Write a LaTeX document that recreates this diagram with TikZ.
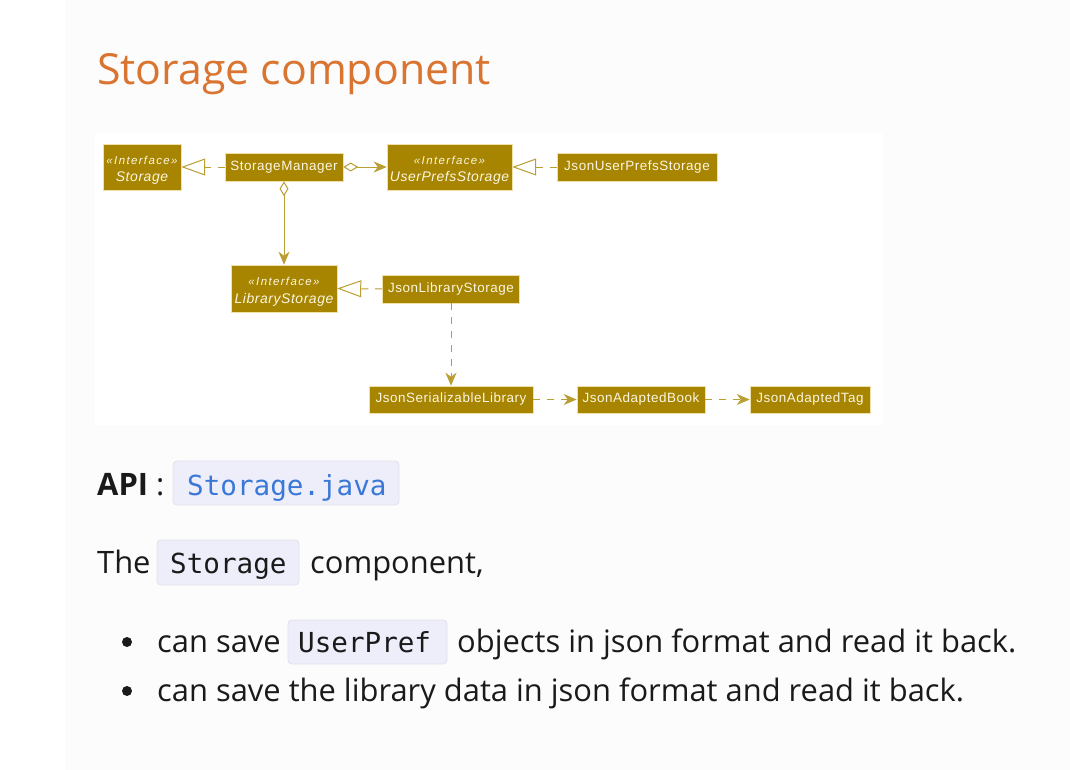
\documentclass[tikz,border=0pt]{standalone}
\usepackage{fontspec}
\setmainfont{Open Sans}
\newfontfamily\diag{Liberation Sans}[LetterSpace=4]
\newfontfamily\diagst{Liberation Sans}[LetterSpace=12]
\newfontfamily\mono{DejaVu Sans Mono}
\usetikzlibrary{arrows.meta}
\definecolor{pagebg}{RGB}{252,252,252}
\definecolor{gold}{RGB}{167,133,0}
\definecolor{goldedge}{RGB}{240,225,170}
\definecolor{goldtext}{RGB}{252,246,226}
\definecolor{goldline}{RGB}{185,158,50}
\definecolor{titleorange}{RGB}{217,117,48}
\definecolor{codebg}{RGB}{238,238,251}
\definecolor{codeedge}{RGB}{224,224,238}
\definecolor{linkblue}{RGB}{58,120,216}
\definecolor{bodytext}{RGB}{26,26,26}
\tikzset{
  cls/.style={rectangle, fill=gold, draw=goldedge, line width=0.6pt, text=goldtext,
    font=\diag\fontsize{13.5}{15}\selectfont, inner sep=0pt, align=center},
  stxt/.style={anchor=base, inner sep=0pt, text=goldtext, font=\diagst\itshape\fontsize{11.5}{13}\selectfont},
  ntxt/.style={anchor=base, inner sep=0pt, text=goldtext, font=\diag\itshape\fontsize{14}{16}\selectfont},
  real/.style={draw=goldline, line width=1pt, dash pattern=on 7pt off 7pt,
    -{Triangle[open, length=24pt, width=17pt, line width=1pt]}},
  assoc/.style={draw=goldline, line width=1pt,
    {Diamond[open, length=15pt, width=9pt, line width=1pt]}-{Stealth[length=13pt, width=11pt, inset=4pt]}},
  dep/.style={draw=goldline, line width=1pt, dash pattern=on 7pt off 7pt,
    -{Stealth[length=13pt, width=11pt, inset=4pt]}},
  codebox/.style={fill=codebg, draw=codeedge, line width=0.8pt, rounded corners=4pt},
  body/.style={anchor=base west, inner sep=0pt, text=bodytext, font=\fontsize{31}{36}\selectfont},
  code/.style={anchor=base west, inner sep=0pt, font=\mono\fontsize{27.7}{32}\selectfont}
}
\begin{document}
\begin{tikzpicture}[x=1bp, y=-1bp]
\useasboundingbox (0,0) rectangle (1070,770);
\fill[white] (0,0) rectangle (1070,770);
\fill[pagebg] (65,0) rectangle (1070,770);
% diagram area
\fill[white] (95,133) rectangle (882,425);

% title
\node[anchor=base west, inner sep=0pt, text=titleorange, font=\fontsize{43}{50}\selectfont] (title) at (97,85) {Storage component};

% class nodes
\node[cls, minimum width=78bp, minimum height=46bp] (st) at (142,167) {};
\node[stxt] (sts) at ([yshift=2.7bp]st.center) {«Interface»};
\node[ntxt] (stn) at ([yshift=-14.5bp]st.center) {Storage};
\node[cls, minimum width=118bp, minimum height=28bp] (sm) at (284,167) {StorageManager};
\node[cls, minimum width=125bp, minimum height=46bp] (ups) at (449.5,167) {};
\node[stxt] (upss) at ([yshift=2.7bp]ups.center) {«Interface»};
\node[ntxt] (upsn) at ([yshift=-14.5bp]ups.center) {UserPrefsStorage};
\node[cls, minimum width=160bp, minimum height=28bp] (jups) at (637,167) {JsonUserPrefsStorage};
\node[cls, minimum width=106bp, minimum height=47bp] (ls) at (284,288.5) {};
\node[stxt] (lss) at ([yshift=2.7bp]ls.center) {«Interface»};
\node[ntxt] (lsn) at ([yshift=-14.5bp]ls.center) {LibraryStorage};
\node[cls, minimum width=137bp, minimum height=28bp] (jls) at (451,289) {JsonLibraryStorage};
\node[cls, minimum width=164bp, minimum height=27bp] (jsl) at (451,399.5) {JsonSerializableLibrary};
\node[cls, minimum width=128bp, minimum height=27bp] (jab) at (641,399.5) {JsonAdaptedBook};
\node[cls, minimum width=120bp, minimum height=27bp] (jat) at (810,399.5) {JsonAdaptedTag};

% connectors
\draw[real] (sm.west) -- (st.east);
\draw[assoc] (sm.east) -- (ups.west);
\draw[real] (jups.west) -- (ups.east);
\draw[assoc] (sm.south) -- (ls.north);
\draw[real] (jls.west) -- (ls.east);
\draw[dep] (jls.south) -- (jsl.north);
\draw[dep] (jsl.east) -- (jab.west);
\draw[dep] (jab.east) -- (jat.west);

% API line
\node[body, font=\bfseries\fontsize{31}{36}\selectfont] (api) at (97,495) {API};
\node[body] (colon) at (156,495) {:};
\node[codebox, minimum width=226bp, minimum height=44bp, inner sep=0pt] (cb1) at (286,483) {};
\node[code, text=linkblue] (cb1t) at (187,495) {Storage.java};

% The Storage component,
\node[body] (the) at (97,573) {The};
\node[codebox, minimum width=142bp, minimum height=45bp, inner sep=0pt] (cb2) at (228,562.5) {};
\node[code, text=bodytext] (cb2t) at (170,573) {Storage};
\node[body] (comp) at (310,573) {component,};

% bullets
\fill[bodytext] (127,642) circle (5bp);
\node[body] (b1a) at (157,652.7) {can save};
\node[codebox, minimum width=159bp, minimum height=44bp, inner sep=0pt] (cb3) at (367.5,642) {};
\node[code, text=bodytext] (cb3t) at (298,652.7) {UserPref};
\node[body] (b1b) at (457,652.7) {objects in json format and read it back.};
\fill[bodytext] (127,691) circle (5bp);
\node[body] (b2) at (157,701.5) {can save the library data in json format and read it back.};
\end{tikzpicture}
\end{document}
